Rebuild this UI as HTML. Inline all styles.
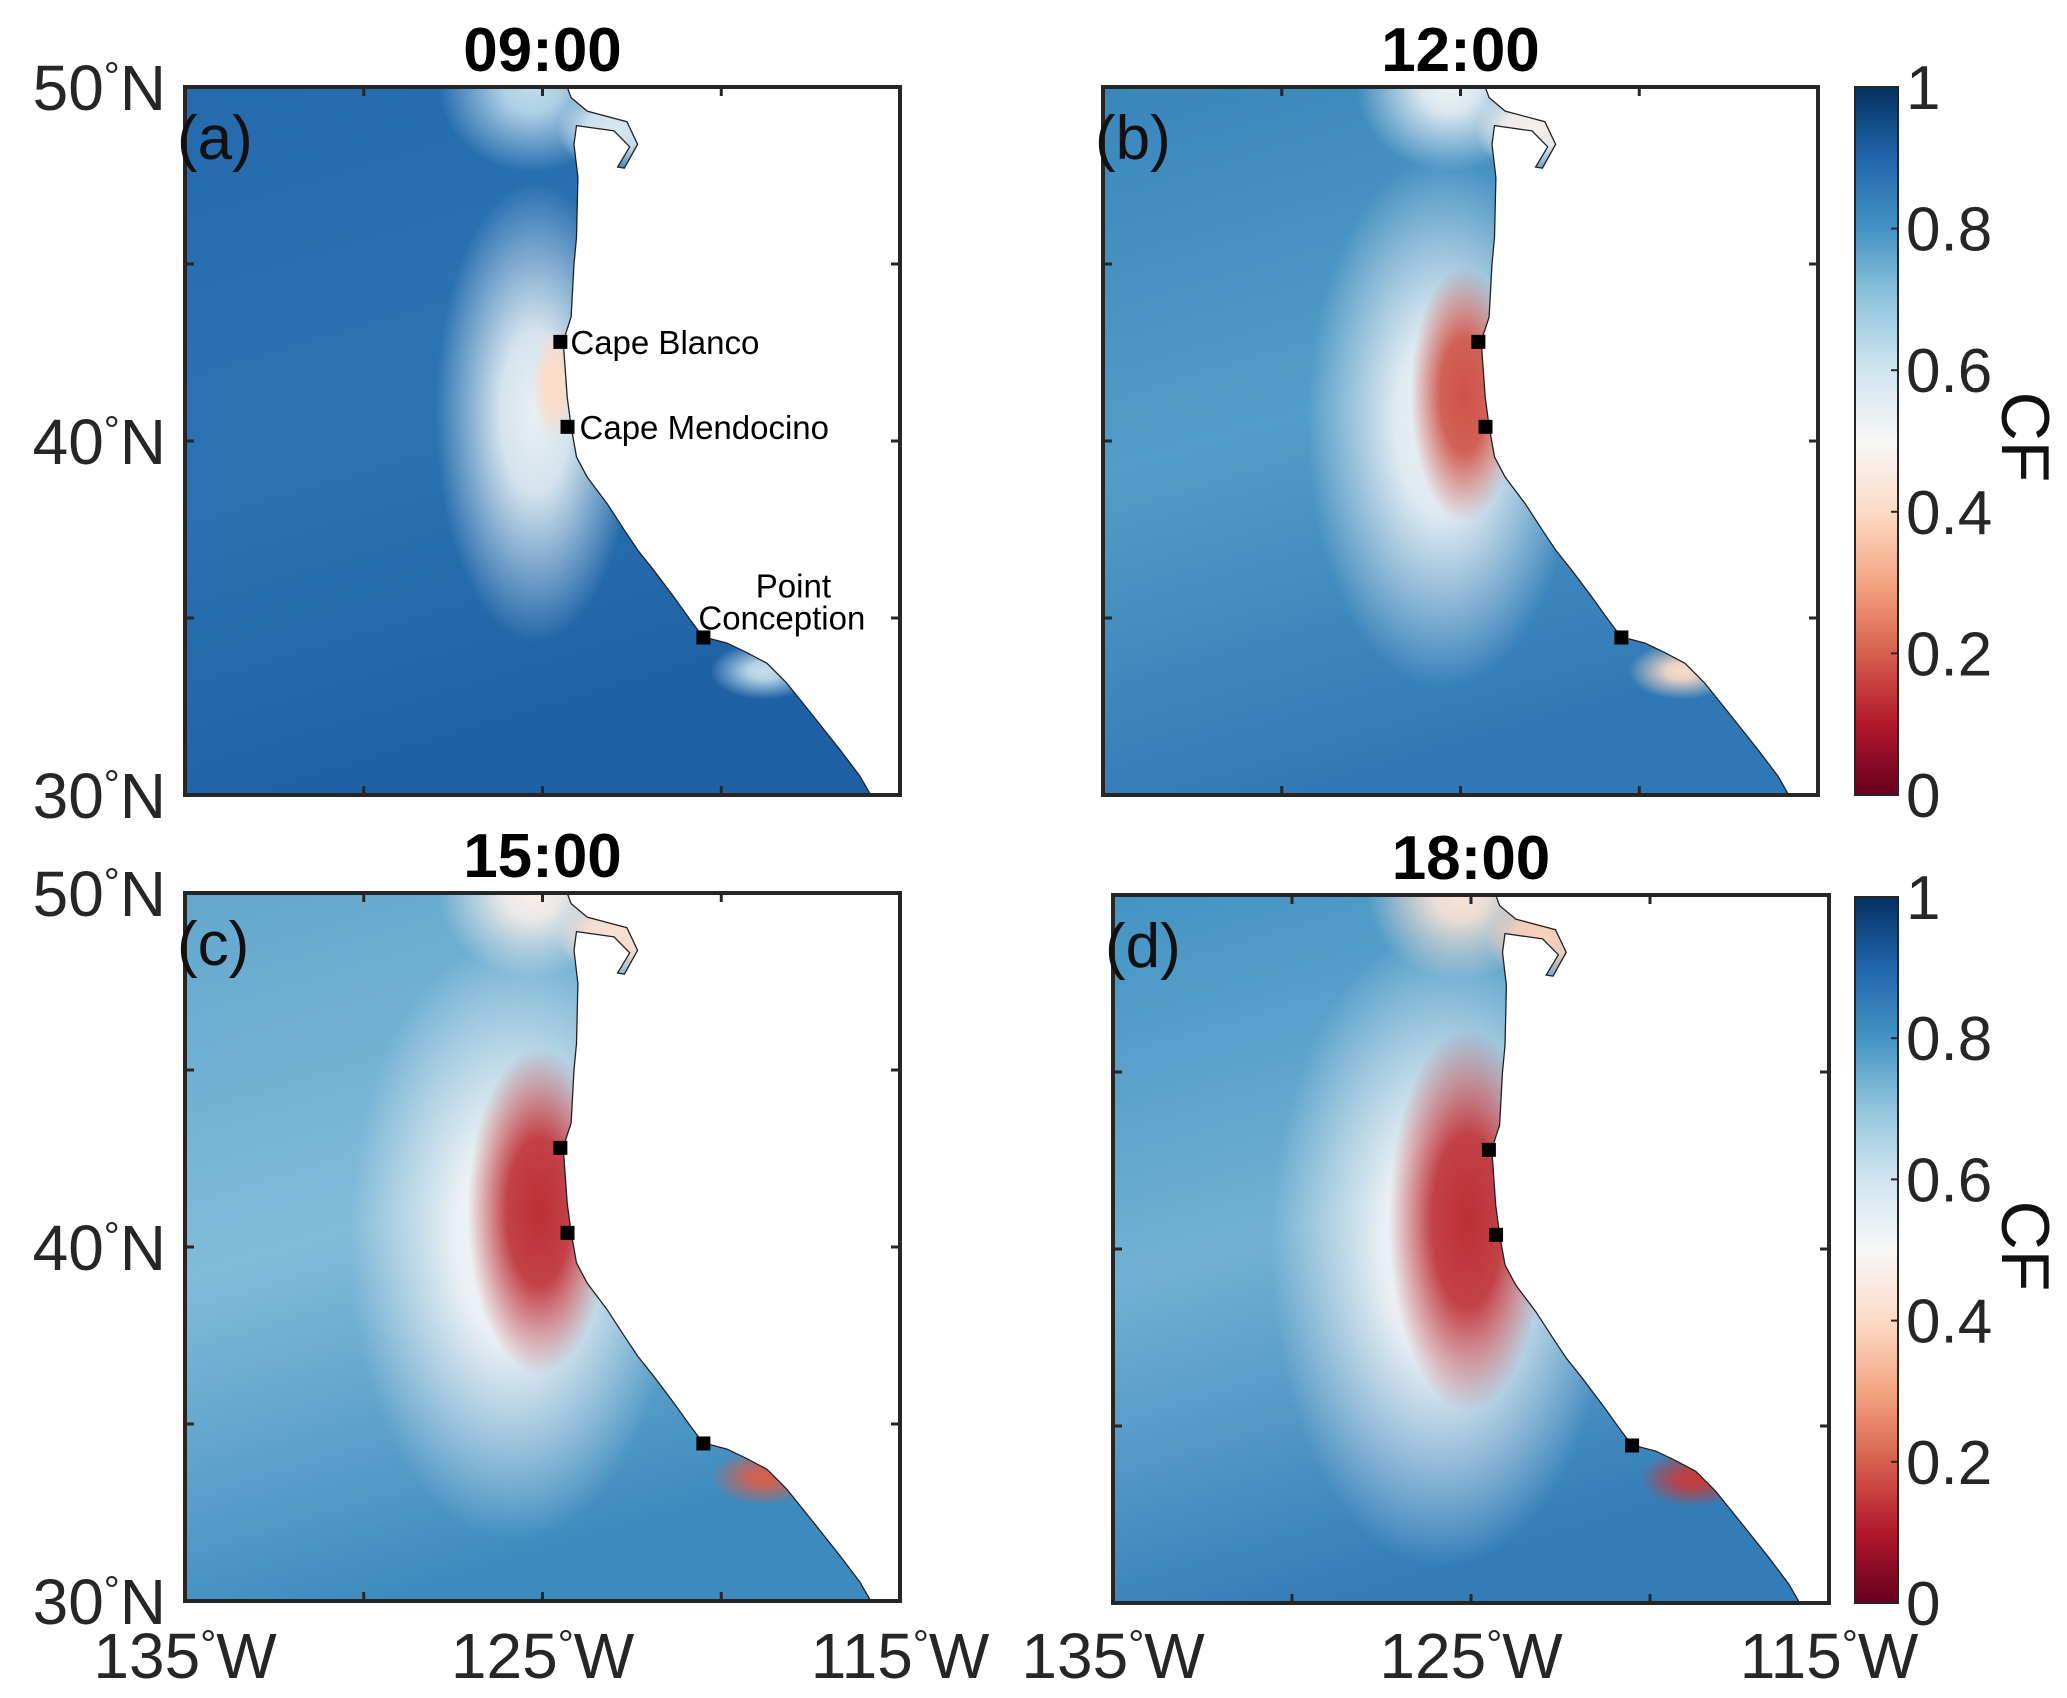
<!DOCTYPE html>
<html><head><meta charset="utf-8"><style>
html,body{margin:0;padding:0;background:#fff;}
svg{display:block;font-family:"Liberation Sans",Arial,sans-serif;}
</style></head><body>
<svg id="fig" width="2067" height="1698" viewBox="0 0 2067 1698" xmlns="http://www.w3.org/2000/svg">
<defs>
<linearGradient id="cbGrad" x1="0" y1="1" x2="0" y2="0">
<stop offset="0" stop-color="#67001f"/><stop offset="0.1" stop-color="#b2182b"/><stop offset="0.2" stop-color="#d6604d"/><stop offset="0.3" stop-color="#f4a582"/><stop offset="0.4" stop-color="#fddbc7"/><stop offset="0.5" stop-color="#f7f7f7"/><stop offset="0.6" stop-color="#d1e5f0"/><stop offset="0.7" stop-color="#92c5de"/><stop offset="0.8" stop-color="#4393c3"/><stop offset="0.9" stop-color="#2166ac"/><stop offset="1" stop-color="#053061"/>
</linearGradient>
</defs>
</svg>
<script>
// ---- data ----
const panelTitles = ["09:00","12:00","15:00","18:00"];
const panelLetters = ["(a)","(b)","(c)","(d)"];
const latTicks = [50,45,40,35,30];
const latTickLabels = ["50","","40","","30"];
const lonTicks = [-135,-130,-125,-120,-115];
const lonTickLabels = ["135","","125","","115"];
const cbTicks = [0,0.2,0.4,0.6,0.8,1];
const cbTickLabels = ["0","0.2","0.4","0.6","0.8","1"];
const capeNames = ["Cape Blanco","Cape Mendocino","Point Conception"];
const capeLon = [-124.5,-124.3,-120.5];
const capeLat = [42.8,40.4,34.45];
const baseTopCF = [0.89,0.83,0.76,0.80];
const baseLeftCF = [0.87,0.78,0.72,0.74];
const baseBottomCF = [0.91,0.86,0.82,0.85];
const haloCF = [0.54,0.52,0.50,0.50];
const haloLon = [-125.2,-125.5,-125.8,-125.8];
const haloLat = [40.8,40.5,40.2,40.0];
const haloRx = [2.8,3.8,4.6,4.8];
const haloRy = [6.5,7.5,8.5,9.0];
const coreCF = [0.40,0.18,0.13,0.13];
const coreLon = [-124.7,-124.9,-125.1,-125.1];
const coreLat = [41.6,41.3,41.0,40.8];
const coreRx = [0.6,1.5,2.0,2.2];
const coreRy = [1.6,3.6,4.6,5.4];
const pcCF = [0.62,0.40,0.20,0.15];
const topCF = [0.58,0.48,0.42,0.38];
const coastLon = [-124.31,-124.2,-123.75,-122.64,-122.34,-122.71,-122.9,-122.56,-123.0,-124.05,-124.12,-124.01,-124.05,-124.12,-124.2,-124.42,-124.31,-124.2,-124.05,-123.75,-123.19,-122.71,-122.34,-121.89,-121.33,-120.85,-120.51,-119.84,-119.28,-118.72,-118.17,-117.42,-116.68,-116.12,-115.82];
const coastLat = [50,49.7,49.32,49.02,48.38,47.71,47.74,48.31,48.76,48.91,48.38,47.44,45.75,45.0,43.5,42.82,41.24,40.41,39.55,38.98,38.23,37.48,36.92,36.35,35.6,34.92,34.47,34.29,34.02,33.72,33.16,32.22,31.28,30.53,30.0];
// ---- layout ----
const panels = [{x:185,y:87,w:715,h:708},{x:1103,y:87,w:715,h:708},{x:185,y:893,w:715,h:708},{x:1113,y:895,w:716,h:708}];
const cbars = [{x:1855,y:87,w:43,h:708},{x:1855,y:897,w:43,h:706}];
const NS="http://www.w3.org/2000/svg";
const svg=document.getElementById('fig');
const defs=svg.querySelector('defs');
const cmapStops=[[103,0,31],[178,24,43],[214,96,77],[244,165,130],[253,219,199],[247,247,247],[209,229,240],[146,197,222],[67,147,195],[33,102,172],[5,48,97]];
function cmap(v){v=Math.max(0,Math.min(1,v))*10;const i=Math.min(9,Math.floor(v)),f=v-i;const a=cmapStops[i],b=cmapStops[i+1];return `rgb(${a.map((c,k)=>Math.round(c+(b[k]-c)*f)).join(',')})`;}
function mk(tag,attrs,parent){const e=document.createElementNS(NS,tag);for(const k in attrs)e.setAttribute(k,attrs[k]);(parent||svg).appendChild(e);return e;}
let gid=0;
function blob(parent,cx,cy,rx,ry,color,hold){
  const id='rg'+(gid++);
  const rg=mk('radialGradient',{id:id},defs);
  mk('stop',{offset:0,'stop-color':color,'stop-opacity':1},rg);
  mk('stop',{offset:hold,'stop-color':color,'stop-opacity':0.9},rg);
  mk('stop',{offset:1,'stop-color':color,'stop-opacity':0},rg);
  return mk('ellipse',{cx:cx,cy:cy,rx:rx,ry:ry,fill:`url(#${id})`},parent);
}
panels.forEach((p,i)=>{
  const X=lon=>p.x+(lon+135)/20*p.w, Y=lat=>p.y+(50-lat)/20*p.h;
  const sx=p.w/20, sy=p.h/20;
  const g=mk('g',{});
  
  
  const coastPts=coastLon.map((l,k)=>X(l).toFixed(1)+','+Y(coastLat[k]).toFixed(1)).join(' ');
  const cp=mk('clipPath',{id:'ocean'+i},g);
  mk('polygon',{points:X(-135)+','+Y(50)+' '+coastPts+' '+X(-135)+','+Y(30)},cp);
  const lg=mk('linearGradient',{id:'bg'+i,x1:0,y1:0,x2:0.3,y2:1},g);
  mk('stop',{offset:0,'stop-color':cmap(baseTopCF[i])},lg);
  mk('stop',{offset:0.5,'stop-color':cmap(baseLeftCF[i])},lg);
  mk('stop',{offset:1,'stop-color':cmap(baseBottomCF[i])},lg);
  const oc=mk('g',{'clip-path':`url(#ocean${i})`},g);
  const bgr=mk('rect',{x:p.x,y:p.y,width:p.w,height:p.h,fill:`url(#bg${i})`},oc);
  
  
  const halo=blob(oc,X(haloLon[i]),Y(haloLat[i]),haloRx[i]*sx,haloRy[i]*sy,cmap(haloCF[i]),0.35);
  
  
  blob(oc,X(-125.3),Y(50),2.6*sx,2.4*sy,cmap(topCF[i]+0.05),0.3);
  blob(oc,X(-123.0),Y(48.8),1.6*sx,1.2*sy,cmap(topCF[i]),0.5);
  const core=blob(oc,X(coreLon[i]),Y(coreLat[i]),coreRx[i]*sx,coreRy[i]*sy,cmap(coreCF[i]),0.45);
  
  
  const pc=blob(oc,X(-118.8),Y(33.5),1.5*sx,0.8*sy,cmap(pcCF[i]),0.3);
  
  
  const coast=mk('polyline',{points:coastPts,fill:'none',stroke:'#222','stroke-width':1.3},g);
  
  
  latTicks.forEach(l=>{mk('line',{x1:p.x,x2:p.x+9,y1:Y(l),y2:Y(l),stroke:'#262626','stroke-width':3},g);mk('line',{x1:p.x+p.w-9,x2:p.x+p.w,y1:Y(l),y2:Y(l),stroke:'#262626','stroke-width':3},g);});
  lonTicks.forEach(l=>{mk('line',{x1:X(l),x2:X(l),y1:p.y,y2:p.y+9,stroke:'#262626','stroke-width':3},g);mk('line',{x1:X(l),x2:X(l),y1:p.y+p.h-9,y2:p.y+p.h,stroke:'#262626','stroke-width':3},g);});
  const fr=mk('rect',{x:p.x,y:p.y,width:p.w,height:p.h,fill:'none',stroke:'#262626','stroke-width':4},g);
  
  
  capeLon.forEach((l,k)=>{const m=mk('rect',{x:X(l)-7,y:Y(capeLat[k])-7,width:14,height:14,fill:'#000'},g);
    
    });
  const t=mk('text',{x:p.x+p.w/2,y:p.y-16,'text-anchor':'middle','font-size':62,'font-weight':'bold',fill:'#000'},g);
  t.textContent=panelTitles[i];
  
  
  const lt=mk('text',{x:p.x-8,y:p.y+72,'font-size':62,fill:'#111'},g);
  lt.textContent=panelLetters[i];
  
  
  if(i%2===0){latTicks.forEach((l,k)=>{if(!latTickLabels[k])return;const tx=mk('text',{x:166,y:Y(l)+23,'text-anchor':'end','font-size':64,fill:'#262626'},g);
    tx.innerHTML=latTickLabels[k]+'<tspan font-size="40" dy="-20">°</tspan><tspan dy="20">N</tspan>';
    
    });}
  if(i>=2){lonTicks.forEach((l,k)=>{if(!lonTickLabels[k])return;const tx=mk('text',{x:X(l),y:1678,'text-anchor':'middle','font-size':64,fill:'#262626'},g);
    tx.innerHTML=lonTickLabels[k]+'<tspan font-size="40" dy="-20">°</tspan><tspan dy="20">W</tspan>';
    
    });}
  if(i===0){
    const a=mk('text',{x:X(-124.5)+10,y:Y(42.8)+12,'font-size':33,fill:'#000'},g);a.textContent=capeNames[0];
    
    
    const b=mk('text',{x:X(-124.3)+12,y:Y(40.4)+12,'font-size':33,fill:'#000'},g);b.textContent=capeNames[1];
    
    
    const c1=mk('text',{x:X(-120.5)+90,y:Y(34.45)-40,'text-anchor':'middle','font-size':33,fill:'#000'},g);c1.textContent="Point";
    
    
    const c2=mk('text',{x:X(-120.5)-5,y:Y(34.45)-8,'font-size':33,fill:'#000'},g);c2.textContent="Conception";
    
    
  }
});
cbars.forEach((c,j)=>{
  const g=mk('g',{});
  
  
  mk('rect',{x:c.x,y:c.y,width:c.w,height:c.h,fill:'url(#cbGrad)',stroke:'#262626','stroke-width':2},g);
  cbTicks.forEach((v,k)=>{const y=c.y+c.h*(1-v);
    mk('line',{x1:c.x+c.w-7,x2:c.x+c.w,y1:y,y2:y,stroke:'#262626','stroke-width':2},g);
    const tx=mk('text',{x:c.x+c.w+8,y:y+22,'font-size':62,fill:'#262626'},g);tx.textContent=cbTickLabels[k];
    
    });
  const lab=mk('text',{x:0,y:0,'font-size':68,fill:'#111','text-anchor':'middle',transform:`translate(2002,${c.y+c.h*0.5-4}) rotate(90)`},g);
  lab.textContent="CF";
  
  
});
</script>
</body></html>
